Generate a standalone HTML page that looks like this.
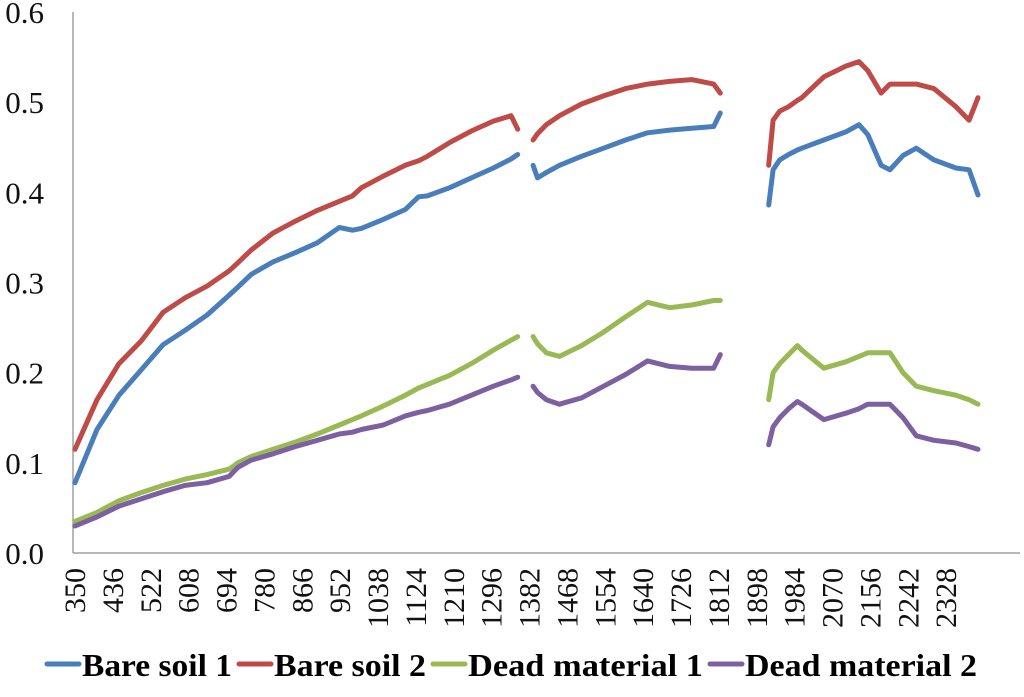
<!DOCTYPE html>
<html><head><meta charset="utf-8"><style>
body{margin:0;background:#fff;width:1024px;height:692px;overflow:hidden}
svg text{font-family:"Liberation Serif",serif}
</style></head><body>
<svg id="chart" width="1024" height="692" viewBox="0 0 1024 692"></svg>
<script>
const wavelengths=[350,400,450,500,550,600,650,700,720,750,800,850,900,950,980,1000,1050,1100,1130,1150,1200,1250,1300,1340,1355,null,1390,1400,1420,1450,1500,1550,1600,1650,1700,1750,1800,1815,null,1925,1935,1950,1970,1990,2000,2050,2100,2130,2150,2180,2200,2230,2260,2300,2350,2380,2400];
const bareSoil1=[0.078,0.137,0.175,0.203,0.231,0.247,0.264,0.286,0.295,0.309,0.323,0.333,0.344,0.361,0.358,0.36,0.37,0.381,0.395,0.396,0.405,0.416,0.427,0.437,0.442,null,0.43,0.416,0.422,0.43,0.44,0.449,0.458,0.466,0.469,0.471,0.473,0.488,null,0.386,0.425,0.436,0.442,0.447,0.449,0.458,0.467,0.475,0.464,0.43,0.425,0.441,0.449,0.436,0.427,0.425,0.397];
const bareSoil2=[0.115,0.17,0.21,0.235,0.267,0.283,0.296,0.313,0.322,0.336,0.355,0.368,0.38,0.39,0.396,0.405,0.418,0.43,0.435,0.44,0.455,0.468,0.479,0.485,0.47,null,0.458,0.465,0.475,0.485,0.498,0.507,0.515,0.52,0.523,0.525,0.52,0.51,null,0.43,0.48,0.49,0.495,0.502,0.505,0.528,0.54,0.545,0.535,0.51,0.52,0.52,0.52,0.515,0.495,0.48,0.505];
const deadMaterial1=[0.035,0.045,0.058,0.067,0.075,0.082,0.087,0.093,0.1,0.107,0.115,0.123,0.132,0.142,0.148,0.152,0.163,0.175,0.183,0.187,0.197,0.21,0.225,0.236,0.24,null,0.24,0.232,0.222,0.218,0.23,0.245,0.262,0.278,0.272,0.275,0.28,0.28,null,0.17,0.2,0.21,0.22,0.23,0.225,0.205,0.212,0.218,0.222,0.222,0.222,0.2,0.185,0.18,0.175,0.17,0.165];
const deadMaterial2=[0.03,0.04,0.052,0.06,0.068,0.075,0.078,0.085,0.095,0.103,0.11,0.118,0.125,0.132,0.134,0.137,0.142,0.152,0.156,0.158,0.165,0.175,0.185,0.192,0.195,null,0.185,0.178,0.17,0.165,0.172,0.185,0.198,0.213,0.207,0.205,0.205,0.22,null,0.12,0.14,0.15,0.16,0.168,0.165,0.148,0.155,0.16,0.165,0.165,0.165,0.15,0.13,0.125,0.122,0.118,0.115];
const xTicks=[350,436,522,608,694,780,866,952,1038,1124,1210,1296,1382,1468,1554,1640,1726,1812,1898,1984,2070,2156,2242,2328];
const yTicks=[0,0.1,0.2,0.3,0.4,0.5,0.6];
const seriesNames=["Bare soil 1","Bare soil 2","Dead material 1","Dead material 2"];
const seriesData=[bareSoil1,bareSoil2,deadMaterial1,deadMaterial2];
const colors=["#4a7ebb","#be4b48","#98b954","#7d60a0"];
const X0=73,X1=1020,Y0=553,Y1=12;
const xs=w=>X0+(w-350)/(2500-350)*(X1-X0)+2;
const ys=v=>Y0-v/0.6*(Y0-Y1);
const svg=document.getElementById('chart');
const NS="http://www.w3.org/2000/svg";
function mk(t,a){const e=document.createElementNS(NS,t);for(const k in a)e.setAttribute(k,a[k]);svg.appendChild(e);return e;}
let ax=mk('line',{x1:X0,y1:Y1,x2:X0,y2:Y0,stroke:'#a0a0a0','stroke-width':1.5});


ax=mk('line',{x1:X0,y1:Y0,x2:X1,y2:Y0,stroke:'#a0a0a0','stroke-width':1.5});


yTicks.forEach(v=>{const t=mk('text',{x:44,y:ys(v)+11,'font-size':31,'text-anchor':'end',fill:'#111'});t.textContent=v.toFixed(1);

});
xTicks.forEach(w=>{const x=xs(w);const t=mk('text',{x:0,y:0,'font-size':30,'text-anchor':'end',fill:'#111',transform:`translate(${x+10},568) rotate(-90)`});t.textContent=w;

});
seriesData.forEach((d,i)=>{let p='',pen=false;
wavelengths.forEach((w,j)=>{if(w===null||d[j]===null){pen=false;return;}p+=(pen?'L':'M')+xs(w).toFixed(1)+','+ys(d[j]).toFixed(1);pen=true;});
const l=mk('path',{d:p,fill:'none',stroke:colors[i],'stroke-width':5,'stroke-linejoin':'round','stroke-linecap':'round'});

});
const legendWidths=[150,152,235,232];
let lx=47;
seriesNames.forEach((n,i)=>{const ln=mk('line',{x1:lx,y1:664,x2:lx+32,y2:664,stroke:colors[i],'stroke-width':5,'stroke-linecap':'round'});


const t=mk('text',{x:lx+35,y:676,'font-size':32,'font-weight':'bold',fill:'#000',textLength:legendWidths[i],lengthAdjust:'spacingAndGlyphs'});t.textContent=n;


lx+=35+legendWidths[i]+7;});
</script>
</body></html>
